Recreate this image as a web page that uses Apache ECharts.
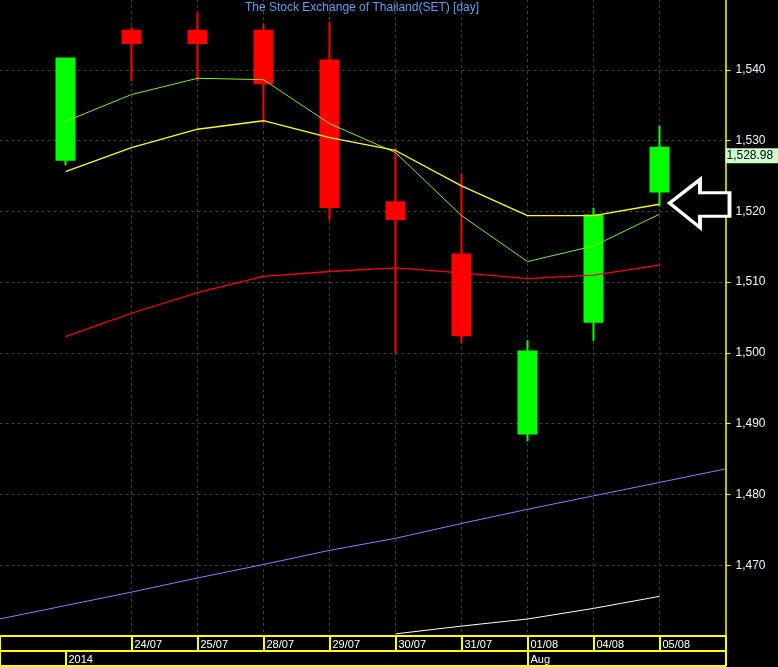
<!DOCTYPE html>
<html><head><meta charset="utf-8">
<script src="https://cdn.jsdelivr.net/npm/echarts@6/dist/echarts.min.js"></script>
<style>html,body{margin:0;padding:0;background:#000;}#c{width:778px;height:667px;}</style>
</head><body><div id="c"></div>
<script>
// ---- data ----
const dates = ['23/07','24/07','25/07','28/07','29/07','30/07','31/07','01/08','04/08','05/08'];
const categories = ['', '23/07','24/07','25/07','28/07','29/07','30/07','31/07','01/08','04/08','05/08', ' '];
const dateLabels = ['', '', '24/07','25/07','28/07','29/07','30/07','31/07','01/08','04/08','05/08', ''];
const periodLabels = ['', '2014', '', '', '', '', '', '', 'Aug', '', '', ''];
const yTicks = [1470, 1480, 1490, 1500, 1510, 1520, 1530, 1540];

const opens  = [1527.3, 1545.5, 1545.5, 1545.5, 1541.3, 1521.3, 1513.9, 1488.6, 1504.4, 1522.8];
const closes = [1541.6, 1543.8, 1543.8, 1538.1, 1520.6, 1518.9, 1502.5, 1500.2, 1519.4, 1528.98];
const lows   = [1526.5, 1538.4, 1538.4, 1532.4, 1518.7, 1500.0, 1501.4, 1487.5, 1501.7, 1520.7];
const highs  = [1541.7, 1546.0, 1548.1, 1546.5, 1546.7, 1529.0, 1525.3, 1501.8, 1520.5, 1532.1];

const maGreen  = [1532.7, 1536.5, 1538.8, 1538.6, 1532.4, 1528.3, 1519.4, 1512.9, 1515.1, 1519.6];
const maYellow = [1525.6, 1529.0, 1531.6, 1532.8, 1530.4, 1528.6, 1523.6, 1519.4, 1519.4, 1521.0];
const maRed    = [1502.3, 1505.6, 1508.5, 1510.8, 1511.5, 1512.0, 1511.3, 1510.5, 1511.0, 1512.4];
const trendBlue = [1462.4, 1464.3, 1466.2, 1468.2, 1470.1, 1472.1, 1473.8, 1475.9, 1477.9, 1479.8, 1481.7, 1483.6];
const whiteDates = ['30/07','31/07','01/08','04/08','05/08'];
const trendWhite = [1460.3, 1461.4, 1462.4, 1463.9, 1465.6];
const lastClose = 1528.98;
const arrowAt = ['05/08', 1521.1];

// ---- chart ----
const FONT = '"Liberation Sans", Arial, sans-serif';
const YEL = '#ffff00';
const GRIDC = '#3c3f3c';
const chart = echarts.init(document.getElementById('c'), null, {renderer: 'canvas'});
const idxOf = d => categories.indexOf(d);

const xBase = {
  type: 'category', data: categories, boundaryGap: false, position: 'bottom', gridIndex: 0
};

chart.setOption({
  backgroundColor: '#000000',
  animation: false,
  title: {
    text: 'The Stock Exchange of Thailand(SET) [day]',
    left: 245, top: 2, padding: 0,
    textStyle: {color: '#5aa0f0', fontSize: 12, fontWeight: 'normal', fontFamily: FONT}
  },
  grid: {left: -0.5, top: -1, width: 726, height: 637, containLabel: false, outerBoundsMode: 'none'},
  xAxis: [
    Object.assign({}, xBase, {
      offset: 0,
      axisLine: {show: true, lineStyle: {color: YEL, width: 2}},
      axisTick: {show: true, inside: false, length: 15, lineStyle: {color: YEL, width: 2},
        interval: (i) => i !== 1},
      axisLabel: {show: true, interval: 0, align: 'left', margin: 3, padding: [0, 0, 0, 3],
        color: '#ffffff', fontSize: 11, fontFamily: FONT,
        formatter: (v, i) => dateLabels[i]},
      splitLine: {show: true, interval: (i) => i >= 2 && i <= 10,
        lineStyle: {color: GRIDC, type: [3, 3], width: 1}}
    }),
    Object.assign({}, xBase, {
      offset: 15,
      axisLine: {show: true, lineStyle: {color: YEL, width: 2}},
      axisTick: {show: true, inside: false, length: 15, lineStyle: {color: YEL, width: 2},
        interval: (i) => i === 0 || i === 1 || i === 8 || i === 11},
      axisLabel: {show: true, interval: 0, align: 'left', margin: 3, padding: [0, 0, 0, 3],
        color: '#ffffff', fontSize: 11, fontFamily: FONT,
        formatter: (v, i) => periodLabels[i]},
      splitLine: {show: false}
    }),
    Object.assign({}, xBase, {
      offset: 30,
      axisLine: {show: true, lineStyle: {color: YEL, width: 2}},
      axisTick: {show: false}, axisLabel: {show: false}, splitLine: {show: false}
    })
  ],
  yAxis: {
    type: 'value', position: 'right', min: 1460, max: 1550, splitNumber: 9,
    axisLine: {show: true, lineStyle: {color: YEL, width: 1.5}},
    axisTick: {show: true, inside: false, length: 5, lineStyle: {color: YEL}, customValues: yTicks},
    axisLabel: {show: true, margin: 10, color: '#f2f4ff', fontSize: 12, fontFamily: FONT,
      customValues: yTicks,
      formatter: v => v.toLocaleString('en-US')},
    splitLine: {show: true, lineStyle: {color: GRIDC, type: [3, 3], width: 1}}
  },
  series: [
    {
      type: 'line', name: 'trend1', z: 3, symbol: 'none',
      data: trendBlue.map((v, i) => [i, v]),
      lineStyle: {color: '#8080ff', width: 1}
    },
    {
      type: 'line', name: 'trend2', z: 3, symbol: 'none',
      data: whiteDates.map((d, i) => [idxOf(d), trendWhite[i]]),
      lineStyle: {color: '#ffffff', width: 1}
    },
    {
      type: 'candlestick', name: 'SET', z: 2, barWidth: 18,
      encode: {x: 0, y: [1, 2, 3, 4]},
      data: dates.map((d, i) => [idxOf(d), opens[i], closes[i], lows[i], highs[i]]),
      itemStyle: {color: '#00ff00', color0: '#ff0000', borderColor: '#00ff00', borderColor0: '#ff0000', borderWidth: 2},
      markLine: {
        silent: true, symbol: 'none',
        lineStyle: {color: 'rgba(0,0,0,0)', width: 0},
        data: [{yAxis: lastClose}],
        label: {show: true, position: 'end', distance: 0, offset: [0, 8],
          formatter: () => lastClose.toLocaleString('en-US', {minimumFractionDigits: 2}),
          backgroundColor: '#ccffcc', color: '#000000', fontSize: 12, fontFamily: FONT,
          padding: [2, 6, 1, 1]}
      },
      markPoint: {
        silent: true,
        data: [{coord: [idxOf(arrowAt[0]), arrowAt[1]]}],
        symbol: 'path://M0 25 L32 0 L32 14 L63 14 L63 39 L32 39 L32 51 Z',
        symbolSize: [60, 48],
        symbolOffset: [40, 0],
        itemStyle: {color: '#000000', borderColor: '#ffffff', borderWidth: 3.5},
        label: {show: false}
      }
    },
    {
      type: 'line', name: 'MA1', z: 4, symbol: 'none',
      data: dates.map((d, i) => [idxOf(d), maGreen[i]]),
      lineStyle: {color: '#80f000', width: 1}
    },
    {
      type: 'line', name: 'MA2', z: 4, symbol: 'none',
      data: dates.map((d, i) => [idxOf(d), maYellow[i]]),
      lineStyle: {color: '#ffff00', width: 1.3}
    },
    {
      type: 'line', name: 'MA3', z: 4, symbol: 'none',
      data: dates.map((d, i) => [idxOf(d), maRed[i]]),
      lineStyle: {color: '#ff0000', width: 1.3}
    }
  ]
});
</script>
</body></html>
